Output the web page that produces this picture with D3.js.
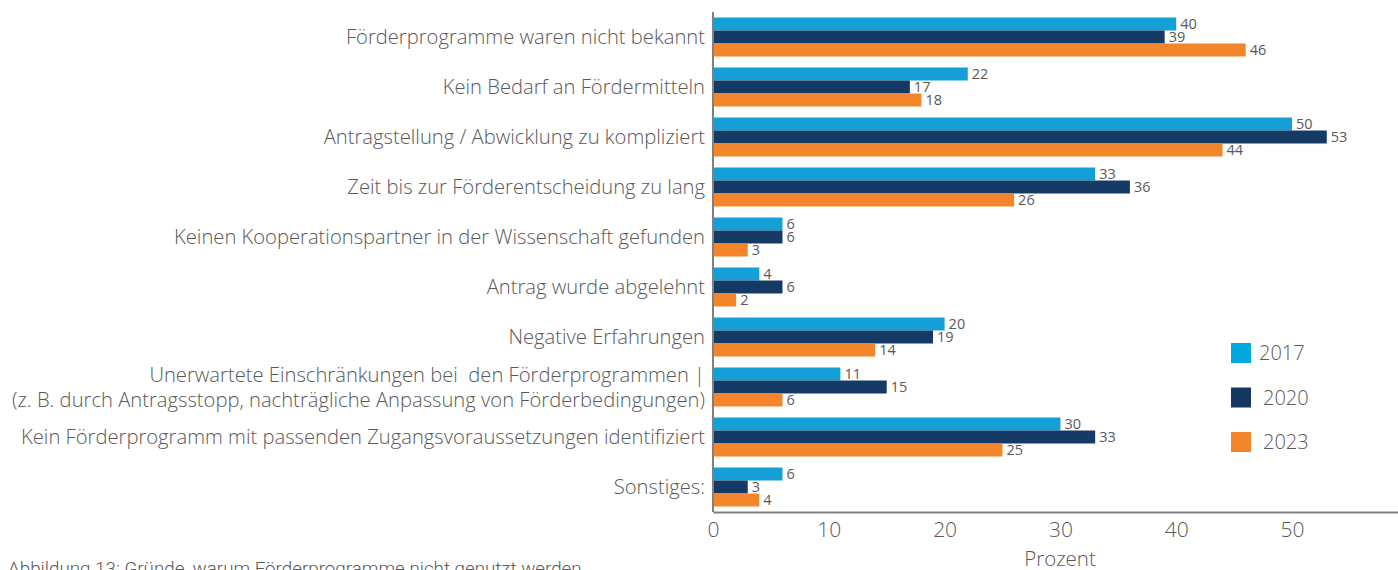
<!DOCTYPE html>
<html>
<head>
<meta charset="utf-8">
<script src="https://cdn.jsdelivr.net/npm/d3@7"></script>
<style>
  body { margin: 0; background: #fff; }
  text { font-family: "Open Sans", sans-serif; fill: #595959; }
</style>
</head>
<body>
<div id="chart"></div>
<script>
// DATA
const categories = [
  'Förderprogramme waren nicht bekannt',
  'Kein Bedarf an Fördermitteln',
  'Antragstellung / Abwicklung zu kompliziert',
  'Zeit bis zur Förderentscheidung zu lang',
  'Keinen Kooperationspartner in der Wissenschaft gefunden',
  'Antrag wurde abgelehnt',
  'Negative Erfahrungen',
  'Unerwartete Einschränkungen bei  den Förderprogrammen |\n(z. B. durch Antragsstopp, nachträgliche Anpassung von Förderbedingungen)',
  'Kein Förderprogramm mit passenden Zugangsvoraussetzungen identifiziert',
  'Sonstiges:'
];
const years = ['2017', '2020', '2023'];
const values2017 = [40, 22, 50, 33, 6, 4, 20, 11, 30, 6];
const values2020 = [39, 17, 53, 36, 6, 6, 19, 15, 33, 3];
const values2023 = [46, 18, 44, 26, 3, 2, 14, 6, 25, 4];
const xTicks = [0, 10, 20, 30, 40, 50];

// GLOBALS AND CONSTANTS
const width = 1398;
const height = 570;
const colors = { '2017': '#149fd6', '2020': '#163a66', '2023': '#f3862b' };
const legendColors = { '2017': '#00a9e0', '2020': '#14375f', '2023': '#f3862b' };

const series = { '2017': values2017, '2020': values2020, '2023': values2023 };

const svg = d3.select('#chart')
  .append('svg')
  .attr('width', width)
  .attr('height', height);

const xScale = d3.scaleLinear()
  .domain([0, 59.15])
  .range([713, 1398]);

const yScale = d3.scaleBand()
  .domain(categories)
  .range([12, 512])
  .paddingInner(0.22)
  .paddingOuter(0.11);

const ySub = d3.scaleBand()
  .domain(years)
  .range([0, yScale.bandwidth()]);

// BARS
const groups = svg.selectAll('.group')
  .data(categories)
  .enter()
  .append('g')
  .attr('class', 'group')
  .attr('transform', d => `translate(0,${yScale(d)})`);

groups.selectAll('rect')
  .data((d, i) => years.map(y => ({ year: y, value: series[y][i] })))
  .enter()
  .append('rect')
  .attr('x', xScale(0))
  .attr('y', d => ySub(d.year))
  .attr('width', d => xScale(d.value) - xScale(0))
  .attr('height', ySub.bandwidth())
  .attr('fill', d => colors[d.year]);

groups.selectAll('text.value')
  .data((d, i) => years.map(y => ({ year: y, value: series[y][i] })))
  .enter()
  .append('text')
  .attr('class', 'value')
  .attr('x', d => xScale(d.value) + 4)
  .attr('y', d => ySub(d.year) + ySub.bandwidth() / 2 + 5)
  .style('font-size', '14.5px')
  .text(d => d.value);

// CATEGORY LABELS
const labels = svg.selectAll('.cat-label')
  .data(categories)
  .enter()
  .append('text')
  .attr('class', 'cat-label')
  .attr('text-anchor', 'end')
  .attr('xml:space', 'preserve')
  .style('white-space', 'pre')
  .style('font-size', '20.2px')
  .style('font-weight', 300)
  .attr('y', d => yScale(d) + yScale.bandwidth() / 2);

labels.each(function(d) {
  const lines = d.split('\n');
  const t = d3.select(this);
  lines.forEach((line, i) => {
    t.append('tspan')
      .attr('x', 705)
      .attr('dy', i === 0 ? (7 - (lines.length - 1) * 12.5) : 25)
      .text(line);
  });
});

// AXES
const xAxis = svg.append('g')
  .attr('transform', `translate(0,${yScale.range()[1]})`)
  .call(d3.axisBottom(xScale).tickValues(xTicks).tickSize(0).tickPadding(10));
xAxis.select('.domain').attr('stroke', '#808080').attr('stroke-width', 2);
xAxis.selectAll('text')
  .style('font-family', '"Open Sans", sans-serif')
  .style('font-size', '21px')
  .style('font-weight', 300)
  .attr('fill', '#595959');

svg.append('line')
  .attr('x1', xScale(0))
  .attr('x2', xScale(0))
  .attr('y1', 12)
  .attr('y2', yScale.range()[1])
  .attr('stroke', '#808080')
  .attr('stroke-width', 2);

svg.append('text')
  .attr('x', 1060)
  .attr('y', 566)
  .attr('text-anchor', 'middle')
  .style('font-size', '20.5px')
  .style('font-weight', 300)
  .text('Prozent');

svg.append('text')
  .attr('x', 8)
  .attr('y', 575)
  .style('font-family', 'Roboto, sans-serif')
  .style('font-size', '18.8px')
  .style('font-weight', 300)
  .text('Abbildung 13: Gründe, warum Förderprogramme nicht genutzt werden');

// LEGEND
const legend = svg.selectAll('.legend')
  .data(years)
  .enter()
  .append('g')
  .attr('class', 'legend')
  .attr('transform', (d, i) => `translate(1231,${343 + i * 44.5})`);

legend.append('rect')
  .attr('width', 20)
  .attr('height', 20)
  .attr('fill', d => legendColors[d]);

legend.append('text')
  .attr('x', (d, i) => i === 0 ? 28 : 32)
  .attr('y', 17)
  .style('font-size', '20px')
  .style('font-weight', 300)
  .text(d => d);
</script>
</body>
</html>
